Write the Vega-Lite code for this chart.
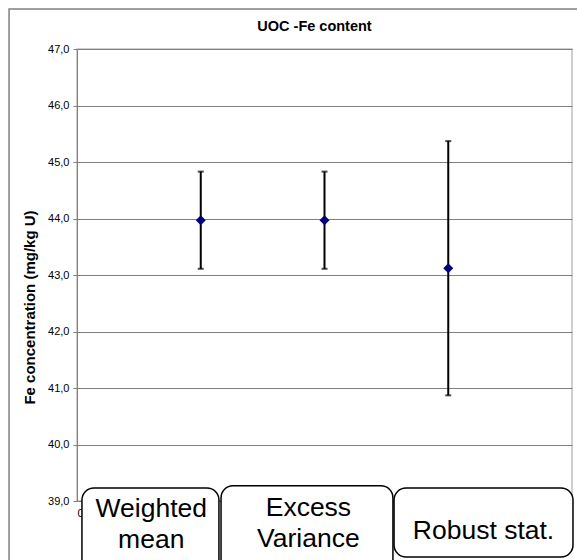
{
  "$schema": "https://vega.github.io/schema/vega-lite/v6.json",
  "width": 495,
  "height": 452,
  "autosize": "none",
  "padding": {"left": 77, "top": 49, "right": 5, "bottom": 59},
  "background": "white",
  "config": {
    "font": "Liberation Sans",
    "view": {"stroke": "#c0c0c0", "strokeWidth": 1.5}
  },
  "title": {
    "text": "UOC -Fe content",
    "fontSize": 14.5,
    "fontWeight": "bold",
    "color": "#000000",
    "anchor": "middle",
    "frame": "group",
    "baseline": "alphabetic",
    "offset": -37,
    "dx": -10
  },
  "datasets": {
    "stats": [
      {"method": "Weighted mean", "pos": 1, "mean": 43.97, "lo": 43.11, "hi": 44.83},
      {"method": "Excess Variance", "pos": 2, "mean": 43.97, "lo": 43.11, "hi": 44.83},
      {"method": "Robust stat.", "pos": 3, "mean": 43.12, "lo": 40.87, "hi": 45.37}
    ],
    "labels": [
      {"label": "Weighted\nmean", "cx": 0.6, "cy": 38.85, "x0": 0.04, "x1": 1.147, "y0": 39.23, "y1": 37.7},
      {"label": "Excess\nVariance", "cx": 1.87, "cy": 38.87, "x0": 1.164, "x1": 2.553, "y0": 39.27, "y1": 37.7},
      {"label": "Robust stat.", "cx": 3.285, "cy": 38.47, "x0": 2.562, "x1": 4.008, "y0": 39.23, "y1": 38.01}
    ]
  },
  "layer": [
    {
      "data": {"name": "stats"},
      "mark": {"type": "rule", "color": "#000000", "strokeWidth": 2},
      "encoding": {
        "x": {
          "field": "pos", "type": "quantitative",
          "scale": {"domain": [0, 4], "nice": false, "zero": false},
          "axis": {
            "values": [0], "grid": false, "domain": false, "ticks": false,
            "labelFontSize": 11, "labelColor": "#000000", "labelPadding": 6,
            "title": null
          }
        },
        "y": {
          "field": "lo", "type": "quantitative",
          "scale": {"domain": [39, 47], "nice": false, "zero": false},
          "axis": {
            "values": [39, 40, 41, 42, 43, 44, 45, 46, 47],
            "labelExpr": "replace(format(datum.value, '.1f'), '.', ',')",
            "grid": true, "gridColor": "#808080", "gridWidth": 1,
            "domainColor": "#808080", "domainWidth": 1,
            "tickColor": "#808080", "tickSize": 4,
            "labelFontSize": 11, "labelColor": "#000000", "labelPadding": 4,
            "title": "Fe concentration (mg/kg U)",
            "titleFontSize": 15, "titleFontWeight": "bold", "titleColor": "#000000",
            "titleAngle": 270, "titleBaseline": "alphabetic", "titleAlign": "center",
            "titleX": -43, "titleY": 258
          }
        },
        "y2": {"field": "hi"}
      }
    },
    {
      "data": {"name": "stats"},
      "mark": {"type": "tick", "orient": "horizontal", "color": "#000000", "size": 6, "thickness": 2},
      "encoding": {
        "x": {"field": "pos", "type": "quantitative"},
        "y": {"field": "lo", "type": "quantitative"}
      }
    },
    {
      "data": {"name": "stats"},
      "mark": {"type": "tick", "orient": "horizontal", "color": "#000000", "size": 6, "thickness": 2},
      "encoding": {
        "x": {"field": "pos", "type": "quantitative"},
        "y": {"field": "hi", "type": "quantitative"}
      }
    },
    {
      "data": {"name": "stats"},
      "mark": {"type": "point", "shape": "diamond", "filled": true, "color": "#000080", "size": 100, "opacity": 1},
      "encoding": {
        "x": {"field": "pos", "type": "quantitative"},
        "y": {"field": "mean", "type": "quantitative"}
      }
    },
    {
      "data": {"name": "labels"},
      "mark": {"type": "rect", "fill": "white", "stroke": "#000000", "strokeWidth": 1.5, "cornerRadius": 12},
      "encoding": {
        "x": {"field": "x0", "type": "quantitative"},
        "x2": {"field": "x1"},
        "y": {"field": "y0", "type": "quantitative"},
        "y2": {"field": "y1"}
      }
    },
    {
      "data": {"name": "labels"},
      "mark": {"type": "text", "fontSize": 26.5, "color": "#000000", "lineBreak": "\n", "lineHeight": 31, "align": "center", "baseline": "middle"},
      "encoding": {
        "x": {"field": "cx", "type": "quantitative"},
        "y": {"field": "cy", "type": "quantitative"},
        "text": {"field": "label"}
      }
    },
    {
      "data": {"values": [{}]},
      "mark": {"type": "rect", "filled": false, "fill": "transparent", "stroke": "#808080", "strokeWidth": 1.5},
      "encoding": {
        "x": {"datum": -0.549},
        "x2": {"datum": 4.6},
        "y": {"datum": 47.708},
        "y2": {"datum": 37.0}
      }
    }
  ]
}
